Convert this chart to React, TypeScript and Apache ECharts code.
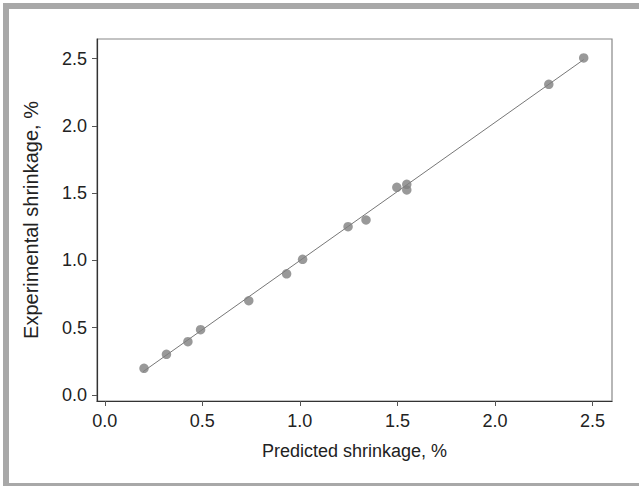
import React, { useEffect, useRef } from "react";
import * as echarts from "echarts";

const predicted = [0.201, 0.316, 0.426, 0.491, 0.738, 0.932, 1.014, 1.247, 1.339, 1.497, 1.548, 1.548, 2.276, 2.455];
const experimental = [0.198, 0.302, 0.396, 0.485, 0.70, 0.90, 1.008, 1.25, 1.30, 1.543, 1.565, 1.523, 2.308, 2.504];
const fitX = [0.196, 2.455];
const fitY = [0.173, 2.492];
const tickValues = [0, 0.5, 1.0, 1.5, 2.0, 2.5];
const xName = "Predicted shrinkage, %";
const yName = "Experimental shrinkage, %";

export default function App() {
  const ref = useRef<HTMLDivElement>(null);
  useEffect(() => {
    if (!ref.current) return;
    const chart = echarts.init(ref.current, null, { renderer: "svg" });
    const font = "Liberation Sans, Arial, sans-serif";
    const axisCommon = (min: number, max: number, margin: number, nameSize: number) => ({
      type: "value",
      min,
      max,
      splitLine: { show: false },
      axisLine: { show: true, onZero: false, lineStyle: { color: "#333", width: 1.2 } },
      axisTick: { show: true, length: 5, customValues: tickValues, lineStyle: { color: "#555" } },
      axisLabel: {
        customValues: tickValues,
        formatter: (v: number) => v.toFixed(1),
        color: "#222",
        fontSize: 18,
        fontFamily: font,
        margin,
      },
      nameLocation: "middle",
      nameTextStyle: { color: "#222", fontSize: nameSize, fontFamily: font },
    });
    chart.setOption({
      animation: false,
      backgroundColor: "#fff",
      graphic: [
        {
          type: "rect",
          shape: { x: 6, y: 6, width: 700, height: 480 },
          style: { fill: "none", stroke: "#a8a8a8", lineWidth: 6 },
          silent: true,
        },
      ],
      grid: {
        left: 97,
        top: 39,
        width: 515,
        height: 362,
        show: true,
        borderColor: "#888",
        borderWidth: 1.2,
        backgroundColor: "transparent",
      },
      xAxis: {
        ...axisCommon(-0.04, 2.6, 11, 18),
        name: xName,
        nameGap: 41,
      },
      yAxis: {
        ...axisCommon(-0.045, 2.645, 10, 20),
        name: yName,
        nameGap: 56,
      },
      series: [
        {
          type: "line",
          data: fitX.map((x, i) => [x, fitY[i]]),
          showSymbol: false,
          lineStyle: { color: "#777", width: 1 },
          z: 2,
        },
        {
          type: "scatter",
          data: predicted.map((x, i) => [x, experimental[i]]),
          symbol: "circle",
          symbolSize: 9.5,
          itemStyle: { color: "#808080" },
          z: 3,
        },
      ],
    });
    return () => chart.dispose();
  }, []);
  return (
    <div
      ref={ref}
      style={{ position: "absolute", left: 0, top: 0, width: 639, height: 486 }}
    />
  );
}
